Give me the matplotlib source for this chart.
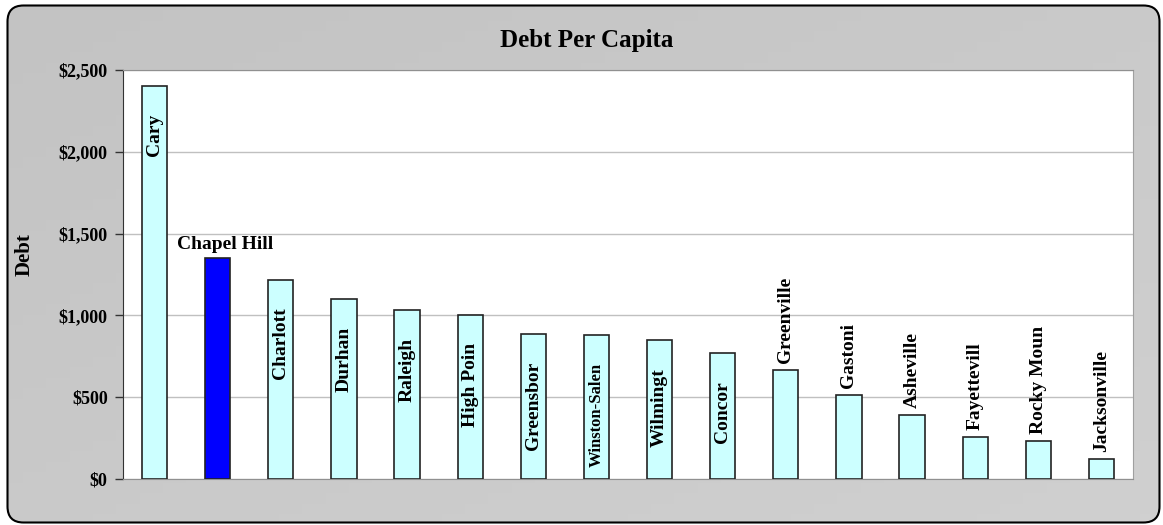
import numpy as np
import matplotlib
matplotlib.use("Agg")
import matplotlib.pyplot as plt
from matplotlib.patches import FancyBboxPatch
from matplotlib.ticker import FuncFormatter

plt.rcParams['font.family'] = ['Liberation Serif', 'DejaVu Serif']
plt.rcParams['font.weight'] = 'bold'

# data
cities = ["Cary", "Chapel Hill", "Charlotte", "Durham", "Raleigh", "High Point",
          "Greensboro", "Winston-Salem", "Wilmington", "Concord", "Greenville",
          "Gastonia", "Asheville", "Fayetteville", "Rocky Mount", "Jacksonville"]
debt = [2400, 1353, 1216, 1098, 1033, 1000, 888, 880, 848, 768, 664,
        511, 393, 257, 234, 120]
# labels as they show on the bars (clipped in the original)
shown = ["Cary", "Chapel Hill", "Charlott", "Durhan", "Raleigh", "High Poin",
         "Greensbor", "Winston-Salen", "Wilmingt", "Concor", "Greenville",
         "Gastoni", "Asheville", "Fayettevill", "Rocky Moun", "Jacksonville"]
highlight = "Chapel Hill"

W, H = 1163, 525
fig = plt.figure(figsize=(W / 100, H / 100), dpi=100)

# rounded gray frame with a faint gradient
bg = fig.add_axes([0, 0, 1, 1])
bg.set_xlim(0, W)
bg.set_ylim(H, 0)
bg.axis('off')
frame = FancyBboxPatch((7.5, 5.5), 1152, 517, boxstyle="round,pad=0,rounding_size=16",
                       facecolor='none', edgecolor='black', linewidth=1.5, zorder=3)
bg.add_patch(frame)
gx, gy = np.meshgrid(np.linspace(0, 1, 50), np.linspace(0, 1, 50))
grad = 0.5 * gx + 0.5 * gy
im = bg.imshow(grad, extent=(0, W, H, 0), cmap=plt.cm.colors.LinearSegmentedColormap.from_list(
    'g', ['#c3c3c3', '#d0d0d0']), aspect='auto', zorder=1)
im.set_clip_path(frame)

ax = fig.add_axes([123 / W, 1 - 479 / H, 1010 / W, 409 / H])
x = np.arange(len(cities))
colors = ['#0000ff' if c == highlight else '#ccffff' for c in cities]
ax.bar(x, debt, width=0.4, color=colors, edgecolor='#222222', linewidth=1.2, zorder=3)

for i, (v, lab) in enumerate(zip(debt, shown)):
    if cities[i] == highlight:
        ax.annotate(lab, (i, v), xytext=(5, 3), textcoords='offset points',
                    ha='center', va='bottom', fontsize=14, fontweight='bold', zorder=4)
    elif v >= 700:
        # long names were set narrower in the original
        fs = 12 if len(lab) > 11 else 14
        ax.annotate(lab, (i, v), xytext=(0, -20), textcoords='offset points',
                    ha='center', va='top', rotation=90, fontsize=fs,
                    fontweight='bold', zorder=4)
    else:
        ax.annotate(lab, (i, v), xytext=(0, 5), textcoords='offset points',
                    ha='center', va='bottom', rotation=90, fontsize=14,
                    fontweight='bold', zorder=4)

ax.set_xlim(-0.5, len(cities) - 0.5)
ax.set_ylim(0, 2500)
ax.set_yticks([0, 500, 1000, 1500, 2000, 2500])
ax.yaxis.set_major_formatter(FuncFormatter(lambda v, p: "${:,.0f}".format(v)))
ax.set_xticks([])
ax.tick_params(axis='y', length=6, width=1, color='#333333', pad=5, labelsize=13)
for t in ax.get_yticklabels():
    t.set_fontweight('bold')
ax.grid(axis='y', color='#c0c0c0', linewidth=1, zorder=0)
ax.set_facecolor('white')
ax.spines['left'].set_color('#333333')
ax.spines['bottom'].set_color('#909090')
ax.spines['top'].set_color('#909090')
ax.spines['right'].set_color('#a0a0a0')

fig.text(587 / W, 1 - 41 / H, "Debt Per Capita", ha='center', va='center',
         fontsize=18, fontweight='bold')
fig.text(25 / W, 1 - 255 / H, "Debt", ha='center', va='center', rotation=90,
         fontsize=15, fontweight='bold')

fig.savefig("out.png", dpi=100)
